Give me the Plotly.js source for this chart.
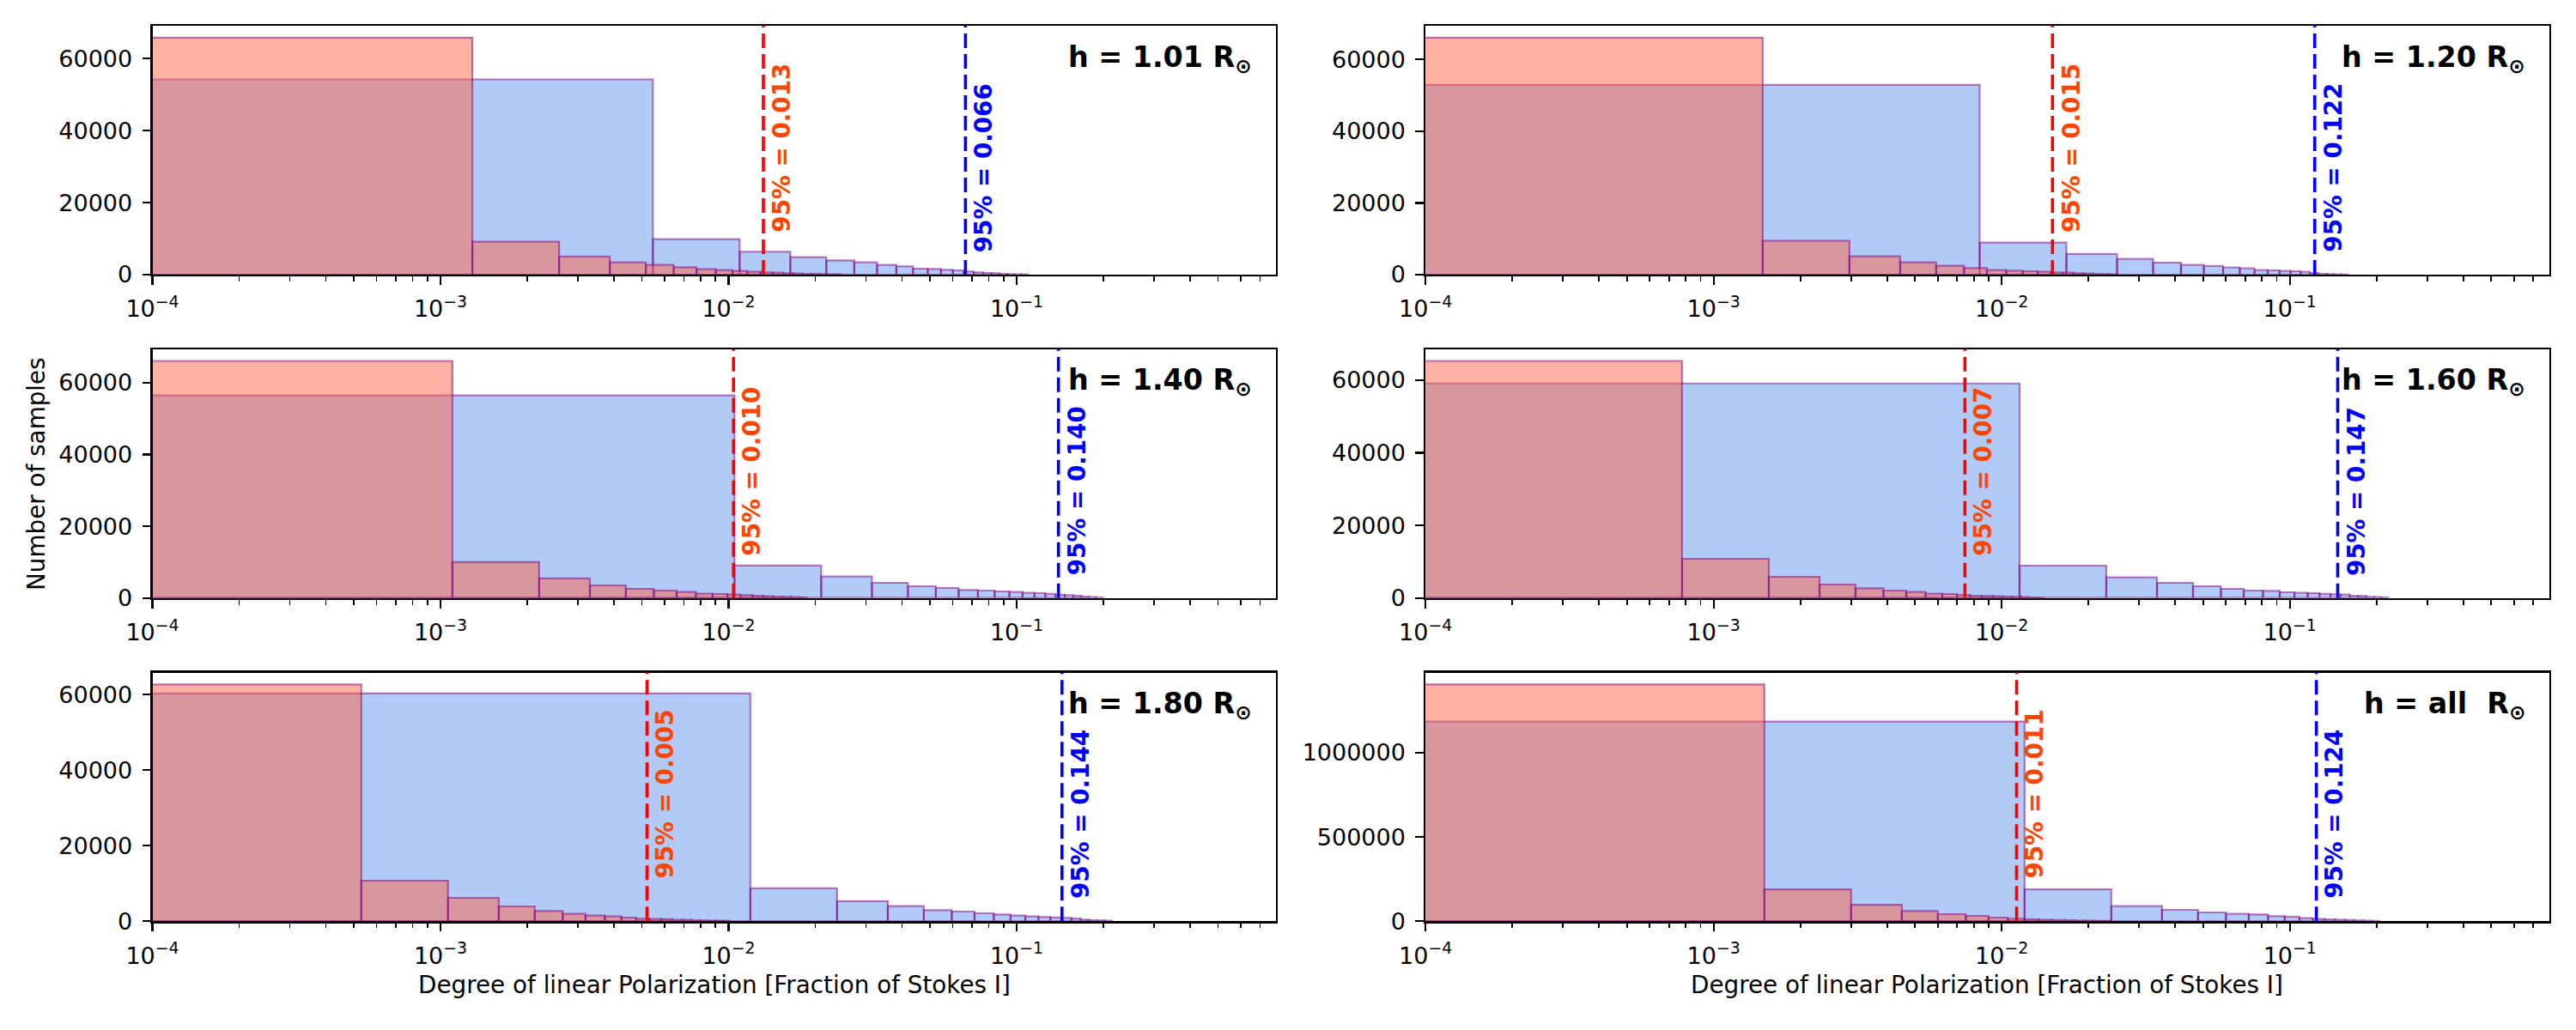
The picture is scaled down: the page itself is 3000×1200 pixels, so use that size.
<!DOCTYPE html>
<html>
<head>
<meta charset="utf-8">
<script src="https://cdn.plot.ly/plotly-3.0.1.min.js"></script>
<style>html,body{margin:0;padding:0;background:#fff;}</style>
</head>
<body>
<div id="chart" style="width:3000px;height:1200px;"></div>
<script>
// ---------------- data ----------------
const panelLabels = ['1.01', '1.20', '1.40', '1.60', '1.80', 'all'];

// linear bin widths of the two histograms in each panel
const redBinWidths  = [1.29e-3, 1.48e-3, 1.10e-3, 0.777e-3, 0.531e-3, 1.50e-3];
const blueBinWidths = [5.46e-3, 8.38e-3, 1.048e-2, 1.153e-2, 1.19e-2, 1.20e-2];

// counts per bin (first bin starts at 0)
const redCounts101  = [65800, 9150, 5020, 3420, 2710, 2070, 1510, 1270, 1030, 800, 640, 560, 400, 320, 240, 200, 160, 120, 80];
const blueCounts101 = [54200, 9870, 6370, 4860, 3980, 3420, 2710, 2310, 1670, 1590, 1350, 1190, 870, 640, 480, 400, 240, 160, 80, 80];

const redCounts120  = [66100, 9420, 5110, 3430, 2480, 1840, 1280, 1120, 960, 800, 640, 560, 400, 320, 240, 160, 120];
const blueCounts120 = [52900, 8950, 5750, 4390, 3350, 2720, 2400, 2000, 1760, 1280, 1200, 1040, 960, 800, 480, 240, 160, 80, 50];

const redCounts140  = [66100, 10000, 5440, 3520, 2560, 2080, 1680, 1200, 1120, 960, 800, 640, 480, 400, 320, 240, 160];
const blueCounts140 = [56500, 9040, 6000, 4240, 3280, 2800, 2240, 2080, 1840, 1680, 1440, 1360, 1150, 950, 830, 620, 400, 240, 120];

const redCounts160  = [65300, 10800, 5840, 3710, 2670, 2060, 1650, 1180, 1110, 870, 640, 550, 470, 390, 310, 240, 160, 80];
const blueCounts160 = [59100, 8910, 5670, 4180, 3240, 2530, 2060, 1960, 1580, 1420, 1340, 1150, 1020, 940, 630, 550, 310, 240, 160];

const redCounts180  = [62700, 10740, 6200, 3930, 2720, 1970, 1520, 1290, 980, 680, 610, 530, 380, 380, 300, 230, 150, 150, 80];
const blueCounts180 = [60300, 8710, 5300, 4020, 2950, 2570, 2110, 1820, 1520, 1290, 1140, 1020, 870, 700, 450, 300, 230, 150];

const redCountsAll  = [1405000, 189300, 98000, 60900, 42300, 32100, 22000, 15200, 11800, 8500, 6800, 6000, 3400, 3000, 2500, 1700];
const blueCountsAll = [1184000, 189300, 89600, 67600, 52400, 44000, 40600, 30400, 26000, 19000, 14000, 11000, 9000, 7000, 5000, 3000, 1700];

const redCountsByPanel  = [redCounts101, redCounts120, redCounts140, redCounts160, redCounts180, redCountsAll];
const blueCountsByPanel = [blueCounts101, blueCounts120, blueCounts140, blueCounts160, blueCounts180, blueCountsAll];

// 95th percentile values
const red95  = [0.0132, 0.0150, 0.0104, 0.00745, 0.00521, 0.01126];
const blue95 = [0.0664, 0.1220, 0.1396, 0.1466, 0.1436, 0.1236];

const yTickSteps = [20000, 20000, 20000, 20000, 20000, 500000];
const xTickVals = [1e-4, 1e-3, 1e-2, 1e-1];
const xTickText = ['10<sup>\u22124</sup>', '10<sup>\u22123</sup>', '10<sup>\u22122</sup>', '10<sup>\u22121</sup>'];
const xMinorVals = [];
[1e-4, 1e-3, 1e-2, 1e-1].forEach(d => { for (let k = 2; k <= 9; k++) xMinorVals.push(k * d); });

const yTitle = 'Number of samples';
const xTitle = 'Degree of linear Polarization [Fraction of Stokes I]';

// ---------------- styles / layout geometry ----------------
const W = 3000, H = 1200;
const FONT = 'DejaVu Sans, Verdana, sans-serif';
const xLogRange = [-4, -0.1];
const colPx = [[177.5, 1486], [1660.2, 2968.7]];
const rowPx = [[30, 320], [406.7, 696.7], [783.5, 1073.3]];

const blueFill = 'rgba(100,149,237,0.5)';
const redFill = 'rgba(255,99,71,0.5)';
const edgeCol = 'rgba(128,0,128,0.5)';

function histOutline(counts, w, xClamp) {
  const xs = [], ys = [];
  counts.forEach((c, i) => {
    let l = i * w;
    const r = (i + 1) * w;
    if (l <= 0) l = xClamp;
    xs.push(l, l, r, r, l, null);
    ys.push(0, c, c, 0, 0, null);
  });
  return { xs, ys };
}

const traces = [];
const layout = {
  width: W, height: H,
  margin: { l: 0, r: 0, t: 0, b: 0 },
  paper_bgcolor: '#fff', plot_bgcolor: '#fff',
  showlegend: false,
  font: { family: FONT, color: '#000' },
  annotations: [], shapes: []
};

const xClamp = Math.pow(10, xLogRange[0] - 0.5);

for (let p = 0; p < 6; p++) {
  const sfx = p === 0 ? '' : String(p + 1);
  const xa = 'x' + sfx, ya = 'y' + sfx;
  const row = Math.floor(p / 2), col = p % 2;

  const blue = histOutline(blueCountsByPanel[p], blueBinWidths[p], xClamp);
  const red = histOutline(redCountsByPanel[p], redBinWidths[p], xClamp);

  traces.push({
    type: 'scatter', mode: 'lines', x: blue.xs, y: blue.ys, xaxis: xa, yaxis: ya,
    fill: 'toself', fillcolor: blueFill,
    line: { color: edgeCol, width: 2.2, simplify: false }, hoverinfo: 'skip', connectgaps: false
  });
  traces.push({
    type: 'scatter', mode: 'lines', x: red.xs, y: red.ys, xaxis: xa, yaxis: ya,
    fill: 'toself', fillcolor: redFill,
    line: { color: edgeCol, width: 2.2, simplify: false }, hoverinfo: 'skip', connectgaps: false
  });

  const ymax = 1.05 * Math.max(Math.max(...redCountsByPanel[p]), Math.max(...blueCountsByPanel[p]));

  layout['xaxis' + sfx] = {
    type: 'log', range: xLogRange,
    domain: [colPx[col][0] / W, colPx[col][1] / W],
    anchor: ya,
    tickmode: 'array', tickvals: xTickVals, ticktext: xTickText,
    ticks: 'outside', ticklen: 9.7, tickwidth: 2.2, tickcolor: '#000',
    ticklabelstandoff: 5,
    minor: { tickmode: 'array', tickvals: xMinorVals, ticks: 'outside', ticklen: 5.6, tickwidth: 1.7, tickcolor: '#000', showgrid: false },
    showline: true, linecolor: '#000', linewidth: 2.2, mirror: true,
    showgrid: false, zeroline: false,
    tickfont: { family: FONT, size: 27, color: '#000' }
  };
  layout['yaxis' + sfx] = {
    range: [0, ymax],
    domain: [1 - rowPx[row][1] / H, 1 - rowPx[row][0] / H],
    anchor: xa,
    tick0: 0, dtick: yTickSteps[p], tickformat: 'd',
    ticks: 'outside', ticklen: 9.7, tickwidth: 2.2, tickcolor: '#000',
    ticklabelstandoff: 6,
    showline: true, linecolor: '#000', linewidth: 2.2, mirror: true,
    showgrid: false, zeroline: false,
    tickfont: { family: FONT, size: 27, color: '#000' }
  };

  // 95% lines
  layout.shapes.push({
    type: 'line', xref: xa, yref: ya + ' domain', x0: red95[p], x1: red95[p], y0: 0, y1: 1,
    line: { color: '#FF0000', width: 3.6, dash: '17px,7px' }
  });
  layout.shapes.push({
    type: 'line', xref: xa, yref: ya + ' domain', x0: blue95[p], x1: blue95[p], y0: 0, y1: 1,
    line: { color: '#0000FF', width: 3.6, dash: '17px,7px' }
  });

  layout.annotations.push({
    xref: xa, yref: ya + ' domain', x: Math.log10(red95[p]), y: 0.163,
    xanchor: 'left', yanchor: 'bottom', xshift: 3, textangle: -90, showarrow: false,
    text: '<b>95% = ' + red95[p].toFixed(3) + '</b>',
    font: { family: FONT, size: 27.8, color: '#FF4500' }
  });
  layout.annotations.push({
    xref: xa, yref: ya + ' domain', x: Math.log10(blue95[p]), y: 0.083,
    xanchor: 'left', yanchor: 'bottom', xshift: 3, textangle: -90, showarrow: false,
    text: '<b>95% = ' + blue95[p].toFixed(3) + '</b>',
    font: { family: FONT, size: 27.8, color: '#0000FF' }
  });

  // panel label
  const lbl = panelLabels[p] === 'all' ? 'h = all\u00A0 R' : 'h = ' + panelLabels[p] + ' R';
  layout.annotations.push({
    xref: xa + ' domain', yref: ya + ' domain', x: 0.98, y: 0.95,
    xanchor: 'right', yanchor: 'top', showarrow: false,
    text: '<b>' + lbl + '<sub>\u2299</sub></b>',
    font: { family: FONT, size: 33.3, color: '#000' }
  });
}

// axis titles
layout.annotations.push({
  xref: 'paper', yref: 'paper', x: 42 / W, y: 1 - 552 / H,
  xanchor: 'center', yanchor: 'middle', textangle: -90, showarrow: false,
  text: yTitle, font: { family: FONT, size: 27.8, color: '#000' }
});
[0, 1].forEach(c => {
  layout.annotations.push({
    xref: 'paper', yref: 'paper', x: (colPx[c][0] + colPx[c][1]) / 2 / W, y: 1 - 1147 / H,
    xanchor: 'center', yanchor: 'middle', showarrow: false,
    text: xTitle, font: { family: FONT, size: 27.8, color: '#000' }
  });
});

Plotly.newPlot('chart', traces, layout, { staticPlot: true, displayModeBar: false });
</script>
</body>
</html>
